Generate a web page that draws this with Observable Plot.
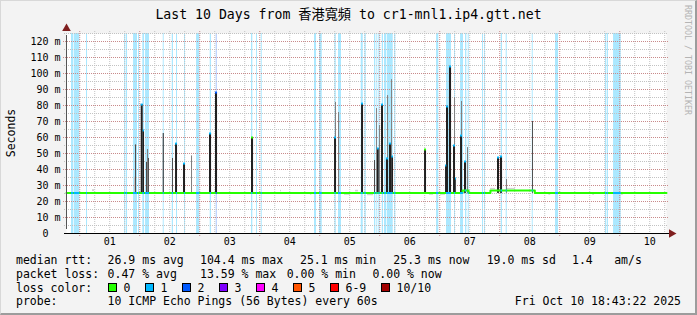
<!DOCTYPE html>
<html>
<head>
<meta charset="utf-8">
<script src="https://cdn.jsdelivr.net/npm/d3@7"></script>
<script src="https://cdn.jsdelivr.net/npm/@observablehq/plot@0.6"></script>
<style>
html,body{margin:0;padding:0;background:#fff}
#card{position:relative;width:697px;height:315px;background:#f3f3f3;overflow:hidden;font-family:"DejaVu Sans Mono",monospace;color:#000}
#card .t{position:absolute;white-space:pre;line-height:14px;font-size:11.5px}
#title{position:absolute;left:0;top:7px;width:697px;text-align:center;font-size:13.2px;line-height:16px;white-space:pre;font-family:"DejaVu Sans Mono","Noto Sans CJK TC",monospace}
#wm{position:absolute;left:683px;top:5px;writing-mode:vertical-rl;font-size:8.3px;line-height:10px;color:#b4b4b4;white-space:pre}
#ylab{position:absolute;left:10.5px;top:133px;transform:translate(-50%,-50%) rotate(-90deg);font-size:11.5px;line-height:14px;white-space:pre}
#chart{position:absolute;left:0;top:24px}
#bevel{position:absolute;left:0;top:0;width:697px;height:315px;box-sizing:border-box;border-style:solid;border-width:1px 2px 2px 1px;border-color:#d8d8d8 #9c9c9c #9c9c9c #d8d8d8;pointer-events:none}
.box{position:absolute;width:7px;height:7px;border:1px solid #000}
</style>
</head>
<body>
<div id="card">
  <div id="title">Last 10 Days from 香港寬頻 to cr1-mnl1.ip4.gtt.net</div>
  <div id="wm">RRDTOOL / TOBI OETIKER</div>
  <div id="ylab">Seconds</div>
  <div id="chart"></div>
  <div id="legend"></div>
  <div id="bevel"></div>
</div>
<script>
// ---- axis / time frame (days since Oct 1 00:00) ----
const tStart = -0.2204;            // Sep 30 18:43:22
const tEnd = 9.7796;               // Oct 10 18:43:22
const yMax = 125;                  // ms
const dayLabels = ["01","02","03","04","05","06","07","08","09","10"];
const dayLabelPos = [0.5,1.5,2.5,3.5,4.5,5.5,6.5,7.5,8.5,9.5];
const yTicks = [0,10,20,30,40,50,60,70,80,90,100,110,120];
const majorX = [0,1,2,3,4,5,6,7,8,9];
const minorX = d3.range(-0.0, 9.8, 0.25).filter(v => v > tStart && Math.abs(v - Math.round(v)) > 0.01);
const majorY = [10,20,30,40,50,60,70,80,90,100,110,120];
const minorY = [5,15,25,35,45,55,65,75,85,95,105,115,125];

// ---- loss colours / legend ----
const lossLabels = ["0","1","2","3","4","5","6-9","10/10"];
const lossColors = ["#26ff00","#00b8ff","#0059ff","#7e00ff","#ff00ff","#ff5500","#ff0000","#a10000"];
const densityColors = [null,"#c4c4c4","#808080","#4b4b4b","#202020"];

// ---- median rtt (step) ----
const medianT = [-0.2204, 6.38, 6.48, 6.845, 7.585, 9.7796];
const medianV = [25.3, 26.9, 25.3, 26.9, 25.3, 25.3];
const smokeFloor = 25.1;

// ---- packet loss periods ----
const lossStart = [-0.137,-0.092,0.113,0.747,0.775,0.897,0.980,1.052,1.097,1.392,1.542,1.613,1.747,1.947,2.175,2.275,2.863,2.947,3.025,3.913,3.997,4.252,4.313,4.692,4.752,4.913,4.952,4.985,5.042,5.080,5.125,5.247,5.947,6.113,6.247,6.347,6.430,6.475,6.713,6.747,7.025,7.108,7.542,7.930,8.763,8.797,8.897];
const lossEnd   = [-0.103,0.002,0.130,0.763,0.797,0.963,0.997,1.080,1.163,1.408,1.563,1.630,1.763,2.002,2.197,2.292,2.885,2.963,3.042,3.947,4.042,4.275,4.363,4.725,4.775,4.935,4.968,5.008,5.063,5.113,5.225,5.268,5.985,6.197,6.263,6.397,6.452,6.492,6.730,6.763,7.047,7.125,7.558,7.980,8.785,8.813,9.025];
const lossLevel = [1,1,1,1,1,1,1,1,1,1,1,1,1,1,1,2,1,1,1,1,1,1,1,1,1,1,1,1,1,1,1,1,1,1,1,1,1,1,1,1,1,1,1,1,1,1,1];

// ---- rtt spikes (smoke) ----
const spikeStart = [0.913,0.930,1.025,1.058,1.113,1.130,1.147,1.392,1.547,1.597,1.730,1.863,2.163,2.263,2.863,4.263,4.247,4.313,4.697,4.913,4.947,4.963,4.997,5.030,5.130,5.113,5.197,5.163,5.202,5.747,6.097,6.113,6.163,6.247,6.230,6.263,6.363,6.347,6.413,6.463,6.963,7.013,7.113,7.547];
const spikeEnd   = [0.930,0.947,1.058,1.080,1.130,1.147,1.163,1.408,1.563,1.630,1.763,1.880,2.197,2.297,2.897,4.280,4.280,4.330,4.730,4.930,4.963,4.992,5.013,5.063,5.147,5.147,5.213,5.197,5.230,5.780,6.118,6.147,6.197,6.263,6.263,6.280,6.380,6.380,6.447,6.480,6.997,7.047,7.130,7.563];
const spikeTop   = [35.2,55.4,80.6,64.4,44.4,52.5,46.9,62.5,46.9,56.2,43.7,48.5,62.5,88.1,60.0,81.9,60.0,75.6,81.2,45.6,78.1,53.1,67.5,80.6,86.2,46.9,96.2,56.2,48.1,52.5,42.5,79.4,104.4,85.0,55.0,34.4,82.5,61.2,45.0,53.7,47.5,48.1,33.7,70.0];
const spikeDensity = [1,3,4,4,3,2,3,4,3,4,4,2,4,4,4,2,4,2,4,3,2,4,2,4,2,4,2,4,4,4,4,4,4,2,4,3,2,4,4,2,4,4,2,3];
const spikeLoss  = [-1,-1,1,1,-1,-1,-1,-1,-1,1,1,-1,1,2,0,-1,1,-1,1,-1,-1,1,-1,1,-1,1,-1,1,1,0,1,1,1,-1,1,1,-1,1,1,-1,1,1,-1,-1];

// ---- faint smoke around the median ----
const faintStart = [0.213,3.347,3.850,4.413,4.597,4.797,5.830,6.013,6.847,7.130,7.820,8.550,9.030];
const faintEnd   = [0.247,3.363,3.867,4.513,4.647,4.897,5.897,6.097,6.930,7.260,7.850,8.580,9.060];
const faintLo    = [26.2,26.0,23.9,23.9,26.0,23.6,23.9,23.9,27.4,27.4,23.9,23.9,23.9];
const faintHi    = [27.4,27.0,24.6,24.6,27.0,24.6,24.6,24.6,28.2,28.2,24.6,24.6,24.6];

// ---- legend text ----
const legendRows = [
  [["median rtt:",16],["26.9 ms avg",107.6],["104.4 ms max",200],["25.1 ms min",300],["25.3 ms now",393.3],["19.0 ms sd",486.7],["1.4",572],["am/s",614.2]],
  [["packet loss:",16],["0.47 % avg",107.6],["13.59 % max",200],["0.00 % min",286.7],["0.00 % now",372.4]],
  [["loss color:",16]],
  [["probe:",16],["10 ICMP Echo Pings (56 Bytes) every 60s",107.6]]
];
const stampText = "Fri Oct 10 18:43:22 2025";

// ---- tables ----
const medianTable = medianT.map((t,i)=>({t, v: medianV[i]}));
const medianAt = t => { let v = medianV[0]; for (let i=0;i<medianT.length;i++) if (medianT[i] <= t) v = medianV[i]; return v; };
const lossTable = lossStart.map((s,i)=>({start:s, end:lossEnd[i], level:lossLevel[i]}));
const spikeTable = spikeStart.map((s,i)=>({t0:s, t1:spikeEnd[i], top:spikeTop[i], density:spikeDensity[i], loss:spikeLoss[i]}))
  .sort((a,b)=>a.density-b.density);
const capTable = spikeTable.filter(d=>d.loss>=0);
const faintTable = faintStart.map((s,i)=>({t0:s, t1:faintEnd[i], lo:faintLo[i], hi:faintHi[i]}));

const font = "'DejaVu Sans Mono', monospace";
const majorColor = "#c98a8a", minorColor = "#c2c2c2";

const chart = Plot.plot({
  width: 697, height: 228,
  marginLeft: 66, marginRight: 31, marginTop: 9, marginBottom: 19,
  style: {background: "transparent", fontFamily: font, fontSize: "10px", color: "#000", overflow: "visible"},
  x: {domain: [tStart, tEnd], axis: null},
  y: {domain: [0, yMax], axis: null},
  color: {type: "identity"},
  marks: [
    Plot.frame({fill: "#ffffff", stroke: "none"}),
    Plot.rect(lossTable, {x1: "start", x2: "end", fill: d => lossColors[d.level], fillOpacity: 0.33}),
    Plot.ruleX(minorX, {stroke: minorColor, strokeDasharray: "1,1", insetTop: -2, insetBottom: -2}),
    Plot.ruleY(minorY, {stroke: minorColor, strokeDasharray: "1,1", insetLeft: -2, insetRight: -2}),
    Plot.ruleX(majorX, {stroke: majorColor, strokeDasharray: "1,1", insetTop: -2, insetBottom: -3}),
    Plot.ruleY(majorY, {stroke: majorColor, strokeDasharray: "1,1", insetLeft: -3, insetRight: -2}),
    Plot.rect(faintTable, {x1: "t0", x2: "t1", y1: "lo", y2: "hi", fill: "#d2d2d2"}),
    Plot.rect(spikeTable, {x1: "t0", x2: "t1", y1: smokeFloor, y2: "top", fill: d => densityColors[d.density]}),
    Plot.line(medianTable, {x: "t", y: "v", curve: "step-after", stroke: lossColors[0], strokeWidth: 2}),
    Plot.ruleY(lossTable, {x1: "start", x2: "end", y: d => medianAt((d.start + d.end) / 2), stroke: d => lossColors[d.level], strokeWidth: 2}),
    Plot.ruleY(capTable, {x1: "t0", x2: "t1", y: "top", stroke: d => lossColors[d.loss], strokeWidth: 2}),
    Plot.ruleX([tStart], {y1: 0, y2: yMax, stroke: "#555", insetTop: -4, insetBottom: -2}),
    Plot.ruleY([0], {stroke: "#000", strokeWidth: 1.2, insetRight: -3, insetLeft: -2}),
    Plot.dot([tStart], {x: d => d, y: yMax, symbol: "triangle", r: 3.2, fill: "#7f1f1f", stroke: "none", dy: -5}),
    Plot.dot([tEnd], {x: d => d, y: 0, symbol: "triangle", rotate: 90, r: 3.2, fill: "#7f1f1f", stroke: "none", dx: 5}),
    Plot.axisY({ticks: yTicks, tickSize: 0, tickPadding: 6, tickFormat: d => d === 0 ? "0\u00a0\u00a0" : d + " m", fontSize: 10, fontFamily: font, fill: "#000"}),
    Plot.axisX({ticks: dayLabelPos, tickSize: 0, tickPadding: 4, tickFormat: d => dayLabels[Math.round(d - 0.5)], fontSize: 10, fontFamily: font, fill: "#000"})
  ]
});
document.getElementById("chart").appendChild(chart);

// ---- legend ----
const legend = document.getElementById("legend");
const rowTops = [253, 266.5, 280.5, 294];
legendRows.forEach((row, r) => {
  row.forEach(([txt, x]) => {
    const s = document.createElement("div");
    s.className = "t"; s.textContent = txt;
    s.style.left = x + "px"; s.style.top = rowTops[r] + "px";
    legend.appendChild(s);
  });
});
let lx = 108;
lossLabels.forEach((lab, i) => {
  const b = document.createElement("div");
  b.className = "box"; b.style.left = lx + "px"; b.style.top = (rowTops[2] + 2.5) + "px";
  b.style.background = lossColors[i];
  legend.appendChild(b);
  const s = document.createElement("div");
  s.className = "t"; s.textContent = lab;
  s.style.left = (lx + 15.5) + "px"; s.style.top = rowTops[2] + "px";
  legend.appendChild(s);
  lx += 30 + lab.length * 7;
});
const st = document.createElement("div");
st.className = "t"; st.textContent = stampText;
st.style.right = "16px"; st.style.top = rowTops[3] + "px";
legend.appendChild(st);
</script>
</body>
</html>
